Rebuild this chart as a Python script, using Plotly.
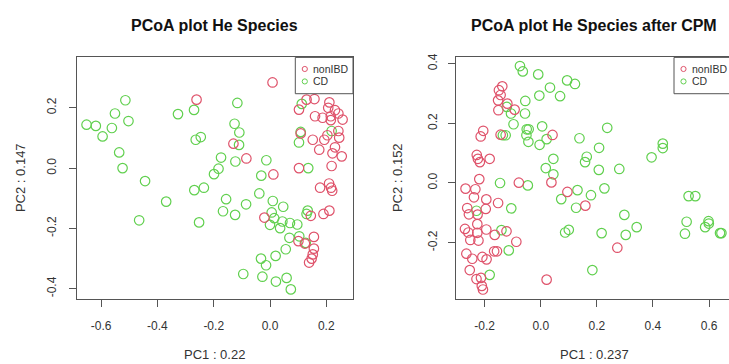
import plotly.graph_objects as go

# ---------------- data ----------------
# Left panel: "PCoA plot He Species"
left_nonibd_pc1 = [0.009, -0.261, -0.130, -0.084, 0.012, -0.020, 0.103, 0.130, 0.158, 0.211,
                   0.207, 0.231, 0.243, 0.160, 0.187, 0.216, 0.216, 0.258, 0.109, 0.152,
                   0.193, 0.204, 0.243, 0.246, 0.175, 0.231, 0.222, 0.255, 0.103, 0.219,
                   0.178, 0.210, 0.217, 0.221, 0.190, 0.211, 0.145, 0.101, 0.124, 0.156,
                   0.156, 0.152, 0.148, 0.139]
left_nonibd_pc2 = [0.284, 0.227, 0.081, 0.032, -0.021, -0.164, 0.194, 0.227, 0.229, 0.218,
                   0.200, 0.192, 0.181, 0.172, 0.167, 0.172, 0.159, 0.161, 0.115, 0.094,
                   0.094, 0.109, 0.123, 0.101, 0.061, 0.069, 0.049, 0.039, 0.000, 0.007,
                   -0.065, -0.051, -0.065, -0.075, -0.152, -0.141, -0.158, -0.242, -0.250, -0.228,
                   -0.267, -0.286, -0.300, -0.313]
left_cd_pc1 = [-0.652, -0.619, -0.595, -0.562, -0.551, -0.514, -0.503, -0.536, -0.524, -0.444,
               -0.369, -0.465, -0.327, -0.270, -0.264, -0.246, -0.116, -0.126, -0.109, -0.110,
               -0.174, -0.123, -0.183, -0.199, -0.269, -0.235, -0.156, -0.167, -0.124, -0.252,
               -0.085, -0.013, -0.031, -0.038, 0.010, 0.047, 0.006, 0.015, 0.044, 0.000,
               0.036, 0.071, 0.097, 0.069, 0.056, -0.032, -0.014, 0.020, -0.095, -0.027,
               0.021, 0.059, 0.074, 0.104, 0.127, 0.134, 0.130, 0.103, 0.109, 0.136,
               0.113, 0.219]
left_cd_pc2 = [0.144, 0.140, 0.105, 0.133, 0.181, 0.225, 0.156, 0.052, 0.000, -0.043,
               -0.111, -0.173, 0.179, 0.193, 0.094, 0.103, 0.216, 0.147, 0.118, 0.077,
               0.035, 0.022, -0.002, -0.020, -0.073, -0.065, -0.103, -0.143, -0.155, -0.180,
               -0.120, 0.026, -0.025, -0.084, -0.109, -0.128, -0.147, -0.166, -0.177, -0.188,
               -0.199, -0.182, -0.187, -0.231, -0.269, -0.300, -0.322, -0.291, -0.351, -0.360,
               -0.376, -0.364, -0.402, -0.226, -0.248, -0.141, -0.152, 0.085, 0.120, 0.000,
               0.213, 0.123]

# Right panel: "PCoA plot He Species after CPM"
right_nonibd_pc1 = [-0.137, -0.149, -0.143, -0.152, -0.119, -0.093, -0.151, -0.205, -0.214, -0.143,
                    0.042, -0.228, -0.224, -0.182, -0.217, -0.219, -0.268, -0.233, -0.238, -0.194,
                    -0.262, -0.196, -0.152, -0.078, 0.038, 0.095, 0.159, -0.256, -0.225, -0.226,
                    -0.270, -0.258, -0.226, -0.194, -0.222, -0.251, -0.164, -0.122, -0.087, -0.265,
                    -0.244, -0.208, -0.193, -0.166, -0.156, -0.253, -0.229, -0.213, -0.210, -0.206,
                    0.021, 0.273]
right_nonibd_pc2 = [0.324, 0.311, 0.295, 0.277, 0.266, 0.246, 0.244, 0.175, 0.156, 0.162,
                    0.161, 0.094, 0.081, 0.081, 0.070, 0.013, -0.019, -0.021, -0.048, -0.055,
                    -0.084, -0.087, -0.067, 0.001, 0.002, -0.030, -0.076, -0.105, -0.106, -0.138,
                    -0.154, -0.166, -0.167, -0.156, -0.193, -0.191, -0.174, -0.162, -0.197, -0.237,
                    -0.254, -0.248, -0.256, -0.229, -0.229, -0.292, -0.322, -0.318, -0.345, -0.357,
                    -0.324, -0.217]
right_cd_pc1 = [-0.074, -0.064, -0.009, 0.094, 0.122, 0.033, 0.069, -0.005, -0.055, -0.121,
                -0.106, -0.056, -0.097, -0.050, -0.043, 0.005, -0.051, -0.044, -0.004, 0.021,
                -0.135, -0.125, 0.138, 0.237, 0.208, 0.164, 0.158, 0.018, 0.045, 0.045,
                0.207, 0.280, 0.395, 0.435, 0.435, -0.145, -0.046, 0.131, 0.073, 0.179,
                0.227, 0.126, -0.105, -0.229, 0.298, -0.140, 0.087, 0.100, 0.217, 0.303,
                0.342, -0.114, -0.182, 0.184, 0.527, 0.551, 0.520, 0.514, 0.598, 0.599,
                0.586, 0.639, 0.644]
right_cd_pc2 = [0.392, 0.374, 0.364, 0.344, 0.332, 0.320, 0.291, 0.293, 0.275, 0.255,
                0.233, 0.233, 0.197, 0.180, 0.180, 0.190, 0.160, 0.138, 0.128, 0.147,
                0.160, 0.160, 0.150, 0.185, 0.118, 0.088, 0.070, 0.050, 0.081, 0.029,
                0.044, 0.047, 0.086, 0.132, 0.117, 0.000, -0.008, -0.024, -0.054, -0.041,
                -0.018, -0.083, -0.085, -0.093, -0.107, -0.158, -0.166, -0.157, -0.168, -0.174,
                -0.148, -0.226, -0.308, -0.292, -0.044, -0.044, -0.130, -0.170, -0.128, -0.136,
                -0.148, -0.168, -0.168]

titles = ["PCoA plot He Species", "PCoA plot He Species after CPM"]
x_titles = ["PC1 : 0.22", "PC1 : 0.237"]
y_titles = ["PC2 : 0.147", "PC2 : 0.152"]
groups = ["nonIBD", "CD"]
left_xticks = [-0.6, -0.4, -0.2, 0.0, 0.2]
left_yticks = [-0.4, -0.2, 0.0, 0.2]
right_xticks = [-0.2, 0.0, 0.2, 0.4, 0.6]
right_yticks = [-0.2, 0.0, 0.2, 0.4]

# ---------------- styling / layout ----------------
RED = "#DF536B"
GREEN = "#61D04F"
COLORS = [RED, GREEN]
AXC = "#555555"
TXT = "#333333"
FONT = "Liberation Sans, Arial, Helvetica, sans-serif"
W, H = 729, 364

def px(x):
    return x / W

def py(y):
    return 1 - y / H

box_top, box_bottom = 54, 298
left_box = (76.7, 353.0)
right_box = (456.0, 729.0)

fig = go.Figure()

def add_points(xs, ys, color, name, xa, ya):
    fig.add_trace(go.Scatter(
        x=xs, y=ys, mode="markers", name=name, showlegend=False,
        xaxis=xa, yaxis=ya,
        marker=dict(symbol="circle-open", size=9.5, color=color, line=dict(width=1.2, color=color)),
        hoverinfo="x+y+name"))

add_points(left_cd_pc1, left_cd_pc2, GREEN, "CD", "x", "y")
add_points(left_nonibd_pc1, left_nonibd_pc2, RED, "nonIBD", "x", "y")
add_points(right_cd_pc1, right_cd_pc2, GREEN, "CD", "x2", "y2")
add_points(right_nonibd_pc1, right_nonibd_pc2, RED, "nonIBD", "x2", "y2")

def fmt(v):
    return f"{v:.1f}"

axis_common = dict(
    showgrid=False, zeroline=False, showline=True, linecolor=AXC, linewidth=1,
    ticks="outside", ticklen=7, tickcolor=AXC, tickwidth=1,
    tickfont=dict(family=FONT, size=12, color=TXT), tickmode="array",
)

fig.update_layout(
    width=W, height=H, margin=dict(l=0, r=0, t=0, b=0),
    paper_bgcolor="white", plot_bgcolor="white",
    font=dict(family=FONT, color=TXT),
    xaxis=dict(domain=[px(left_box[0]), px(left_box[1])], range=[-0.687, 0.295], anchor="y",
               tickvals=left_xticks, ticktext=[fmt(v) for v in left_xticks], mirror=True,
               ticklabelstandoff=9, **axis_common),
    yaxis=dict(domain=[py(box_bottom), py(box_top)], range=[-0.433, 0.367], anchor="x",
               tickvals=left_yticks, ticktext=[fmt(v) for v in left_yticks], mirror=True,
               tickangle=-90, ticklabelstandoff=8, **axis_common),
    xaxis2=dict(domain=[px(right_box[0]), px(right_box[1])], range=[-0.302, 0.671], anchor="y2",
                tickvals=right_xticks, ticktext=[fmt(v) for v in right_xticks], mirror=True,
                ticklabelstandoff=9, **axis_common),
    yaxis2=dict(domain=[py(box_bottom), py(box_top)], range=[-0.388, 0.421], anchor="x2",
                tickvals=right_yticks, ticktext=[fmt(v) for v in right_yticks], mirror=False,
                tickangle=-90, ticklabelstandoff=6, **axis_common),
)

annotations = []
shapes = []
centers = [(left_box[0] + left_box[1]) / 2, (right_box[0] + 732) / 2]
ytitle_x = [20, 397]
for i in range(2):
    annotations.append(dict(text=f"<b>{titles[i]}</b>", x=px(centers[i]), y=py(22), xref="paper", yref="paper",
                            showarrow=False, xanchor="center", yanchor="middle",
                            font=dict(family=FONT, size=16, color="#111111")))
    annotations.append(dict(text=x_titles[i], x=px(centers[i]), y=py(354), xref="paper", yref="paper",
                            showarrow=False, xanchor="center", yanchor="middle",
                            font=dict(family=FONT, size=13, color=TXT)))
    annotations.append(dict(text=y_titles[i], x=px(ytitle_x[i]), y=py((box_top + box_bottom) / 2),
                            xref="paper", yref="paper", showarrow=False, textangle=-90,
                            xanchor="center", yanchor="middle",
                            font=dict(family=FONT, size=13, color=TXT)))

# legends (R-style boxed legend in the top-right corner of each panel)
legend_left = [295.3, 674.0]
legend_right = [353.0, 740.0]
legend_bottom = 90.7
row_y = [65.7, 78.3]
for i in range(2):
    shapes.append(dict(type="rect", xref="paper", yref="paper",
                       x0=px(legend_left[i]), x1=px(legend_right[i]), y0=py(legend_bottom), y1=py(box_top),
                       line=dict(color=AXC, width=1), fillcolor="white", layer="above"))
    for j in range(2):
        cx = legend_left[i] + 9.5
        cy = row_y[j]
        r = 2.6
        shapes.append(dict(type="circle", xref="paper", yref="paper",
                           x0=px(cx - r), x1=px(cx + r), y0=py(cy + r), y1=py(cy - r),
                           line=dict(color=COLORS[j], width=1), layer="above"))
        annotations.append(dict(text=groups[j], x=px(legend_left[i] + 15.5), y=py(cy), xref="paper", yref="paper",
                                showarrow=False, xanchor="left", yanchor="middle",
                                font=dict(family=FONT, size=10.5, color=TXT)))

fig.update_layout(annotations=annotations, shapes=shapes)

fig.write_html("out.html")
